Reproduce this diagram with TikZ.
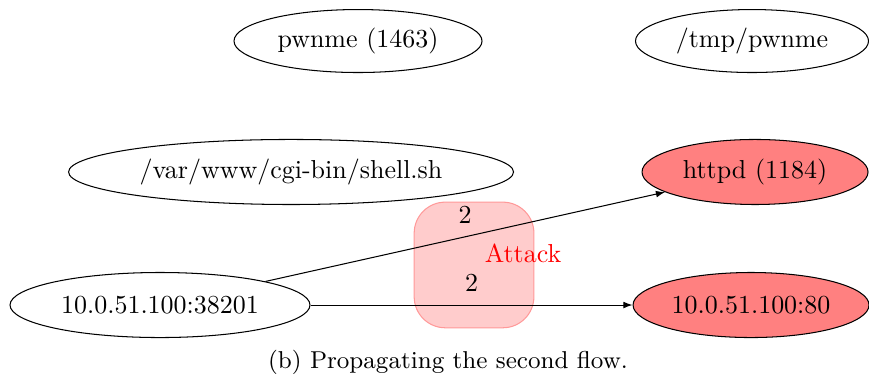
\documentclass[tikz,border=0pt]{standalone}
\usetikzlibrary{shapes.geometric,arrows.meta}

\begin{document}
\begin{tikzpicture}[
    entity/.style={ellipse, draw, inner sep=0pt, minimum height=0.88cm},
    tainted/.style={entity, fill=red!50},
    attackbox/.style={rectangle, rounded corners=0.42cm, fill=red!20, draw=red!40, minimum width=1.62cm, minimum height=1.70cm},
    flow/.style={-{Latex[length=3.5pt,width=2.6pt]}},
    weight/.style={above=4pt, inner sep=1pt}
]
\useasboundingbox (0,0) rectangle (11.758,5.155);

% attack region (behind the flows)
\node[attackbox] (attack) at (6.414, 1.570) {};
\node[text=red] (attacklbl) at (7.077, 1.732) {Attack};

% processes and files
\node[entity, minimum width=3.356cm, minimum height=0.852cm] (pwnme) at (4.844, 4.600) {pwnme (1463)};
\node[entity, minimum width=3.153cm, minimum height=0.852cm] (tmpfile) at (10.175, 4.600) {/tmp/pwnme};
\node[entity, minimum width=6.021cm] (shell) at (3.938, 2.828) {/var/www/cgi-bin/shell.sh};
\node[tainted, minimum width=3.058cm] (httpd) at (10.216, 2.828) {httpd (1184)};

% sockets
\node[entity, minimum width=4.059cm] (src) at (2.165, 1.028) {10.0.51.100:38201};
\node[tainted, minimum width=3.193cm] (dst) at (10.162, 1.028) {10.0.51.100:80};

\draw[flow] (src) -- node[weight, pos=0.50] (w1) {2} (httpd);
\draw[flow] (src) -- node[weight, pos=0.50] (w2) {2} (dst);

\node[font=\fontsize{9.4pt}{11pt}\selectfont] (caption) at (6.062, 0.257) {(b) Propagating the second flow.};

\end{tikzpicture}
\end{document}
